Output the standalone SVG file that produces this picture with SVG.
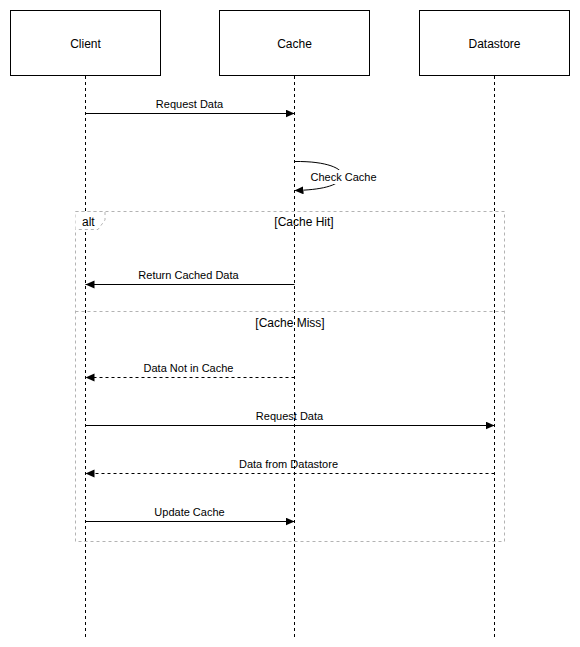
<svg xmlns="http://www.w3.org/2000/svg" width="580" height="647" viewBox="0 0 580 647">
<style>
.box{fill:#fff;stroke:#000;stroke-width:1}
.life{stroke:#000;stroke-width:1;stroke-dasharray:3 3;fill:none}
.msg{stroke:#000;stroke-width:1;fill:none}
.ret{stroke:#000;stroke-width:1;fill:none;stroke-dasharray:3 3}
.frame{fill:none;stroke:#b3b3b3;stroke-width:1;stroke-dasharray:3 3}
.t12{font-family:"Liberation Sans",Arial,sans-serif;font-size:12px;fill:#000;text-anchor:middle}
.t11{font-family:"Liberation Sans",Arial,sans-serif;font-size:11px;fill:#000;text-anchor:middle}
.t12l{font-family:"Liberation Sans",Arial,sans-serif;font-size:12px;fill:#000}
</style>
<defs>
<marker id="arr" markerUnits="userSpaceOnUse" markerWidth="10" markerHeight="10" refX="9" refY="4" orient="auto">
<path d="M0,0 L9,4 L0,8 Z" fill="#000"/>
</marker>
</defs>
<rect width="580" height="647" fill="#fff"/>
<g id="client">
<rect class="box" x="10.5" y="10.5" width="150" height="65"/>
<text class="t12" x="85.5" y="47.5">Client</text>
<line class="life" x1="85.5" y1="76" x2="85.5" y2="637"/>
</g>
<g id="cache">
<rect class="box" x="219.5" y="10.5" width="150" height="65"/>
<text class="t12" x="294.5" y="47.5">Cache</text>
<line class="life" x1="294.5" y1="76" x2="294.5" y2="637"/>
</g>
<g id="datastore">
<rect class="box" x="419.5" y="10.5" width="150" height="65"/>
<text class="t12" x="494.5" y="47.5">Datastore</text>
<line class="life" x1="494.5" y1="76" x2="494.5" y2="637"/>
</g>
<g id="frame-alt">
<rect class="frame" x="75.5" y="211.5" width="429" height="330"/>
<path d="M75.5,211.5 H105 V220 L98,229.5 H75.5 Z" fill="#fff" stroke="none"/>
<path class="frame" d="M75.5,211.5 H105 V220 L98,229.5 H75.5"/>
<line class="frame" x1="75.5" y1="311.5" x2="504.5" y2="311.5"/>
<text class="t12l" x="82" y="226">alt</text>
<text class="t12" x="304" y="226">[Cache Hit]</text>
<text class="t12" x="290" y="327">[Cache Miss]</text>
</g>
<g id="connectors">
<line class="msg" x1="85.5" y1="113.5" x2="294.5" y2="113.5" marker-end="url(#arr)"/>
<text class="t11" x="189.5" y="108">Request Data</text>
<path class="msg" d="M294.5,161.5 C330,161 345,170 342,177 C339,186 320,190 294.5,190.5" marker-end="url(#arr)"/>
<rect x="309" y="170" width="68" height="14" fill="#fff"/>
<text class="t11" x="343.5" y="181">Check Cache</text>
<line class="msg" x1="294.5" y1="284.5" x2="85.5" y2="284.5" marker-end="url(#arr)"/>
<text class="t11" x="188.5" y="279">Return Cached Data</text>
<line class="ret" x1="294.5" y1="377.5" x2="85.5" y2="377.5" marker-end="url(#arr)"/>
<text class="t11" x="188.5" y="372">Data Not in Cache</text>
<line class="msg" x1="85.5" y1="425.5" x2="494.5" y2="425.5" marker-end="url(#arr)"/>
<text class="t11" x="289.5" y="419.5">Request Data</text>
<line class="ret" x1="494.5" y1="473.5" x2="85.5" y2="473.5" marker-end="url(#arr)"/>
<text class="t11" x="288.5" y="467.5">Data from Datastore</text>
<line class="msg" x1="85.5" y1="521.5" x2="294.5" y2="521.5" marker-end="url(#arr)"/>
<text class="t11" x="189.5" y="515.5">Update Cache</text>
</g>
</svg>
